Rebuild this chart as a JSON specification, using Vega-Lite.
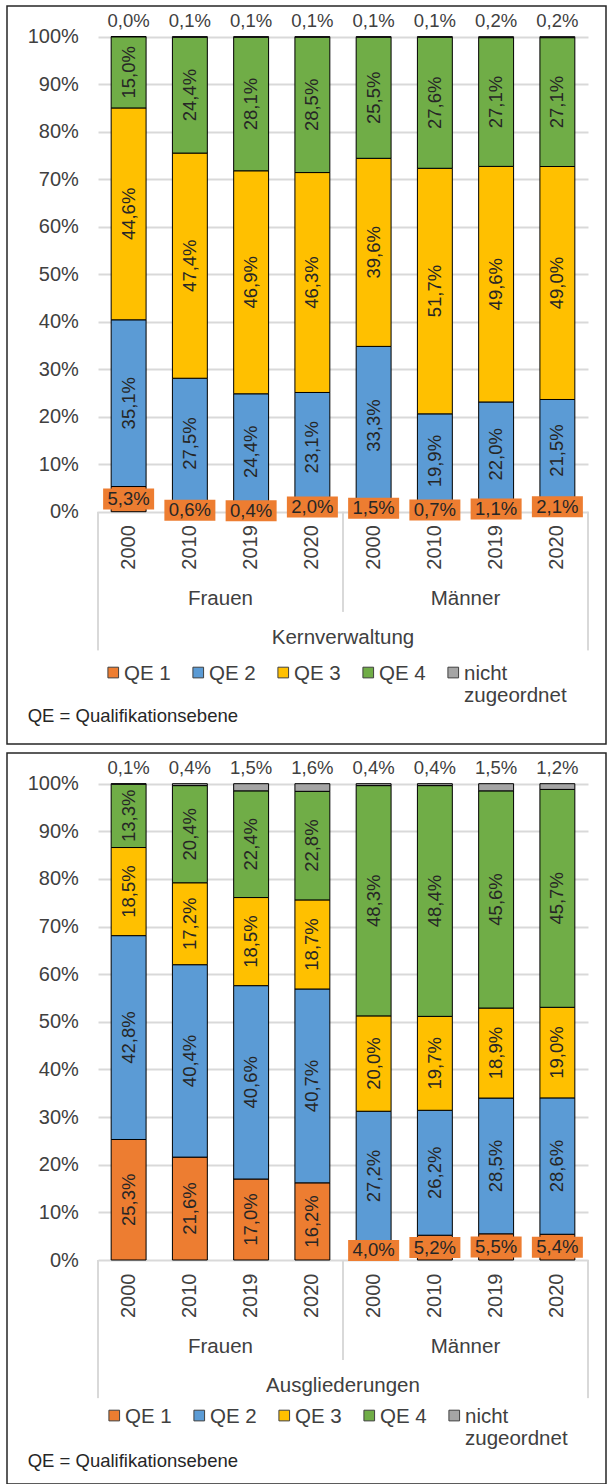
{
  "$schema": "https://vega.github.io/schema/vega-lite/v6.json",
  "background": "white",
  "padding": {"left": 6, "top": 5, "right": 0, "bottom": 0},
  "config": {
    "font": "Liberation Sans",
    "view": {"stroke": "#262626", "strokeWidth": 1.5},
    "legend": {"padding": 0}
  },
  "data": {
    "values": [
      {"panel": "Kernverwaltung", "gender": "Frauen", "year": "2000", "QE 1": 5.3, "QE 2": 35.1, "QE 3": 44.6, "QE 4": 15.0, "nicht zugeordnet": 0.0},
      {"panel": "Kernverwaltung", "gender": "Frauen", "year": "2010", "QE 1": 0.6, "QE 2": 27.5, "QE 3": 47.4, "QE 4": 24.4, "nicht zugeordnet": 0.1},
      {"panel": "Kernverwaltung", "gender": "Frauen", "year": "2019", "QE 1": 0.4, "QE 2": 24.4, "QE 3": 46.9, "QE 4": 28.1, "nicht zugeordnet": 0.1},
      {"panel": "Kernverwaltung", "gender": "Frauen", "year": "2020", "QE 1": 2.0, "QE 2": 23.1, "QE 3": 46.3, "QE 4": 28.5, "nicht zugeordnet": 0.1},
      {"panel": "Kernverwaltung", "gender": "Männer", "year": "2000", "QE 1": 1.5, "QE 2": 33.3, "QE 3": 39.6, "QE 4": 25.5, "nicht zugeordnet": 0.1},
      {"panel": "Kernverwaltung", "gender": "Männer", "year": "2010", "QE 1": 0.7, "QE 2": 19.9, "QE 3": 51.7, "QE 4": 27.6, "nicht zugeordnet": 0.1},
      {"panel": "Kernverwaltung", "gender": "Männer", "year": "2019", "QE 1": 1.1, "QE 2": 22.0, "QE 3": 49.6, "QE 4": 27.1, "nicht zugeordnet": 0.2},
      {"panel": "Kernverwaltung", "gender": "Männer", "year": "2020", "QE 1": 2.1, "QE 2": 21.5, "QE 3": 49.0, "QE 4": 27.1, "nicht zugeordnet": 0.2},
      {"panel": "Ausgliederungen", "gender": "Frauen", "year": "2000", "QE 1": 25.3, "QE 2": 42.8, "QE 3": 18.5, "QE 4": 13.3, "nicht zugeordnet": 0.1},
      {"panel": "Ausgliederungen", "gender": "Frauen", "year": "2010", "QE 1": 21.6, "QE 2": 40.4, "QE 3": 17.2, "QE 4": 20.4, "nicht zugeordnet": 0.4},
      {"panel": "Ausgliederungen", "gender": "Frauen", "year": "2019", "QE 1": 17.0, "QE 2": 40.6, "QE 3": 18.5, "QE 4": 22.4, "nicht zugeordnet": 1.5},
      {"panel": "Ausgliederungen", "gender": "Frauen", "year": "2020", "QE 1": 16.2, "QE 2": 40.7, "QE 3": 18.7, "QE 4": 22.8, "nicht zugeordnet": 1.6},
      {"panel": "Ausgliederungen", "gender": "Männer", "year": "2000", "QE 1": 4.0, "QE 2": 27.2, "QE 3": 20.0, "QE 4": 48.3, "nicht zugeordnet": 0.4},
      {"panel": "Ausgliederungen", "gender": "Männer", "year": "2010", "QE 1": 5.2, "QE 2": 26.2, "QE 3": 19.7, "QE 4": 48.4, "nicht zugeordnet": 0.4},
      {"panel": "Ausgliederungen", "gender": "Männer", "year": "2019", "QE 1": 5.5, "QE 2": 28.5, "QE 3": 18.9, "QE 4": 45.6, "nicht zugeordnet": 1.5},
      {"panel": "Ausgliederungen", "gender": "Männer", "year": "2020", "QE 1": 5.4, "QE 2": 28.6, "QE 3": 19.0, "QE 4": 45.7, "nicht zugeordnet": 1.2}
    ]
  },
  "resolve": {
    "scale": {"x": "independent", "y": "independent", "color": "independent"},
    "axis": {"x": "independent", "y": "independent"},
    "legend": {"color": "independent"}
  },
  "spacing": 7,
  "vconcat": [
    {
      "width": 599,
      "height": 738,
      "transform": [
        {"filter": "datum.panel == 'Kernverwaltung'"},
        {"fold": ["QE 1", "QE 2", "QE 3", "QE 4", "nicht zugeordnet"], "as": ["qe", "value"]},
        {"calculate": "datum.gender + ' ' + datum.year", "as": "key"},
        {"stack": "value", "groupby": ["key"], "sort": [{"field": "qe", "order": "ascending"}], "offset": "normalize", "as": ["y0", "y1"]},
        {"calculate": "(datum.y0 + datum.y1) / 2", "as": "mid"},
        {"calculate": "replace(format(datum.value, '.1f'), '.', ',') + '%'", "as": "label"}
      ],
      "layer": [
        {
          "mark": {"type": "bar", "stroke": "#000000", "strokeWidth": 1},
          "encoding": {
            "x": {"field": "key", "type": "nominal", "scale": {"range": [91, 581], "paddingInner": 0.43, "paddingOuter": 0.215},
              "axis": {"orient": "bottom", "offset": -232.3, "title": null, "domain": false, "ticks": false, "grid": false, "labelAngle": 270, "labelAlign": "right", "labelBaseline": "middle", "labelPadding": 13, "labelExpr": "split(datum.label, ' ')[1]", "labelFontSize": 20, "labelColor": "#404040", "labelOverlap": false, "labelBound": false}},
            "y": {"field": "y1", "type": "quantitative", "scale": {"domain": [0, 1], "range": [505.7, 30.7], "nice": false, "zero": false},
              "axis": {"orient": "left", "offset": -71.3, "title": null, "domain": false, "ticks": false, "labelPadding": 0, "values": [0, 0.1, 0.2, 0.3, 0.4, 0.5, 0.6, 0.7, 0.8, 0.9, 1], "format": ".0%", "labelFontSize": 20, "labelColor": "#404040", "grid": true, "gridColor": "#d9d9d9", "gridWidth": 2}},
            "y2": {"field": "y0"},
            "color": {"field": "qe", "type": "nominal",
              "scale": {"domain": ["QE 1", "QE 2", "QE 3", "QE 4", "nicht zugeordnet"], "range": ["#ED7D31", "#5B9BD5", "#FFC000", "#70AD47", "#A5A5A5"]},
              "legend": {"orient": "none", "legendX": 96, "legendY": 647, "direction": "horizontal", "title": null, "symbolType": "M-1,0.67H1V2.67H-1Z", "symbolSize": 114, "symbolStrokeColor": "#404040", "symbolStrokeWidth": 1, "labelFontSize": 20.5, "labelColor": "#404040", "labelBaseline": "top", "labelOffset": 0.5, "columnPadding": 17, "labelExpr": "datum.value == 'nicht zugeordnet' ? ['nicht', 'zugeordnet'] : [datum.label, ' ']"}}
          }
        },
        {
          "transform": [{"filter": "datum.qe != 'nicht zugeordnet' && !(datum.qe == 'QE 1' && datum.value < 10)"}],
          "mark": {"type": "text", "angle": 270, "align": "center", "baseline": "middle", "fontSize": 18.5, "color": "#262626"},
          "encoding": {
            "x": {"field": "key", "type": "nominal"},
            "y": {"field": "mid", "type": "quantitative", "scale": {"domain": [0, 1], "range": [505.7, 30.7], "nice": false, "zero": false}},
            "text": {"field": "label"}
          }
        },
        {
          "transform": [{"filter": "datum.qe == 'QE 1' && datum.value < 10"}],
          "mark": {"type": "point", "shape": "M-2.55,-1.05H2.55V1.05H-2.55Z", "size": 400, "filled": true, "color": "#ED7D31", "opacity": 1, "strokeWidth": 0},
          "encoding": {
            "x": {"field": "key", "type": "nominal"},
            "y": {"field": "mid", "type": "quantitative", "scale": {"domain": [0, 1], "range": [505.7, 30.7], "nice": false, "zero": false}}
          }
        },
        {
          "transform": [{"filter": "datum.qe == 'QE 1' && datum.value < 10"}],
          "mark": {"type": "text", "align": "center", "baseline": "middle", "fontSize": 18.5, "color": "#262626"},
          "encoding": {
            "x": {"field": "key", "type": "nominal"},
            "y": {"field": "mid", "type": "quantitative", "scale": {"domain": [0, 1], "range": [505.7, 30.7], "nice": false, "zero": false}},
            "text": {"field": "label"}
          }
        },
        {
          "transform": [{"filter": "datum.qe == 'nicht zugeordnet'"}],
          "mark": {"type": "text", "align": "center", "baseline": "alphabetic", "dy": -10, "fontSize": 18.5, "color": "#404040"},
          "encoding": {
            "x": {"field": "key", "type": "nominal"},
            "y": {"datum": 1, "type": "quantitative", "scale": {"domain": [0, 1], "range": [505.7, 30.7], "nice": false, "zero": false}},
            "text": {"field": "label"}
          }
        },
        {
          "transform": [{"filter": "datum.qe == 'QE 1' && datum.year == '2010'"}],
          "mark": {"type": "text", "align": "center", "baseline": "middle", "fontSize": 20.5, "color": "#404040"},
          "encoding": {
            "x": {"field": "key", "type": "nominal", "bandPosition": 1.377},
            "y": {"datum": -0.184, "type": "quantitative", "scale": {"domain": [0, 1], "range": [505.7, 30.7], "nice": false, "zero": false}},
            "text": {"field": "gender"}
          }
        },
        {
          "transform": [{"filter": "datum.qe == 'QE 1' && datum.key == 'Frauen 2020'"}],
          "mark": {"type": "text", "align": "center", "baseline": "middle", "fontSize": 20.5, "color": "#404040"},
          "encoding": {
            "x": {"field": "key", "type": "nominal", "bandPosition": 1.377},
            "y": {"datum": -0.265, "type": "quantitative", "scale": {"domain": [0, 1], "range": [505.7, 30.7], "nice": false, "zero": false}},
            "text": {"field": "panel"}
          }
        },
        {
          "transform": [{"filter": "datum.qe == 'QE 1' && datum.key == 'Frauen 2020'"}],
          "mark": {"type": "rule", "color": "#d9d9d9", "strokeWidth": 2},
          "encoding": {
            "x": {"field": "key", "type": "nominal", "bandPosition": 1.377},
            "y": {"datum": 0, "type": "quantitative", "scale": {"domain": [0, 1], "range": [505.7, 30.7], "nice": false, "zero": false}},
            "y2": {"datum": -0.211}
          }
        },
        {
          "transform": [{"filter": "datum.qe == 'QE 1' && datum.key == 'Frauen 2000'"}],
          "mark": {"type": "rule", "color": "#d9d9d9", "strokeWidth": 2},
          "encoding": {
            "x": {"field": "key", "type": "nominal", "bandPosition": -0.377},
            "y": {"datum": 0, "type": "quantitative", "scale": {"domain": [0, 1], "range": [505.7, 30.7], "nice": false, "zero": false}},
            "y2": {"datum": -0.292}
          }
        },
        {
          "transform": [{"filter": "datum.qe == 'QE 1' && datum.key == 'Männer 2020'"}],
          "mark": {"type": "rule", "color": "#d9d9d9", "strokeWidth": 2},
          "encoding": {
            "x": {"field": "key", "type": "nominal", "bandPosition": 1.377},
            "y": {"datum": 0, "type": "quantitative", "scale": {"domain": [0, 1], "range": [505.7, 30.7], "nice": false, "zero": false}},
            "y2": {"datum": -0.292}
          }
        },
        {
          "transform": [{"filter": "datum.qe == 'QE 1' && datum.key == 'Frauen 2000'"}],
          "mark": {"type": "text", "align": "left", "baseline": "middle", "fontSize": 18.5, "color": "#262626"},
          "encoding": {
            "x": {"field": "key", "type": "nominal", "bandPosition": -2.391},
            "y": {"datum": -0.43, "type": "quantitative", "scale": {"domain": [0, 1], "range": [505.7, 30.7], "nice": false, "zero": false}},
            "text": {"value": "QE = Qualifikationsebene"}
          }
        }
      ]
    },
    {
      "width": 599,
      "height": 731,
      "transform": [
        {"filter": "datum.panel == 'Ausgliederungen'"},
        {"fold": ["QE 1", "QE 2", "QE 3", "QE 4", "nicht zugeordnet"], "as": ["qe", "value"]},
        {"calculate": "datum.gender + ' ' + datum.year", "as": "key"},
        {"stack": "value", "groupby": ["key"], "sort": [{"field": "qe", "order": "ascending"}], "offset": "normalize", "as": ["y0", "y1"]},
        {"calculate": "(datum.y0 + datum.y1) / 2", "as": "mid"},
        {"calculate": "replace(format(datum.value, '.1f'), '.', ',') + '%'", "as": "label"}
      ],
      "layer": [
        {
          "mark": {"type": "bar", "stroke": "#000000", "strokeWidth": 1},
          "encoding": {
            "x": {"field": "key", "type": "nominal", "scale": {"range": [91, 581], "paddingInner": 0.43, "paddingOuter": 0.215},
              "axis": {"orient": "bottom", "offset": -224, "title": null, "domain": false, "ticks": false, "grid": false, "labelAngle": 270, "labelAlign": "right", "labelBaseline": "middle", "labelPadding": 13, "labelExpr": "split(datum.label, ' ')[1]", "labelFontSize": 20, "labelColor": "#404040", "labelOverlap": false, "labelBound": false}},
            "y": {"field": "y1", "type": "quantitative", "scale": {"domain": [0, 1], "range": [507, 30.7], "nice": false, "zero": false},
              "axis": {"orient": "left", "offset": -71.3, "title": null, "domain": false, "ticks": false, "labelPadding": 0, "values": [0, 0.1, 0.2, 0.3, 0.4, 0.5, 0.6, 0.7, 0.8, 0.9, 1], "format": ".0%", "labelFontSize": 20, "labelColor": "#404040", "grid": true, "gridColor": "#d9d9d9", "gridWidth": 2}},
            "y2": {"field": "y0"},
            "color": {"field": "qe", "type": "nominal",
              "scale": {"domain": ["QE 1", "QE 2", "QE 3", "QE 4", "nicht zugeordnet"], "range": ["#ED7D31", "#5B9BD5", "#FFC000", "#70AD47", "#A5A5A5"]},
              "legend": {"orient": "none", "legendX": 97, "legendY": 643, "direction": "horizontal", "title": null, "symbolType": "M-1,0.67H1V2.67H-1Z", "symbolSize": 114, "symbolStrokeColor": "#404040", "symbolStrokeWidth": 1, "labelFontSize": 20.5, "labelColor": "#404040", "labelBaseline": "top", "labelOffset": 0.5, "columnPadding": 17, "labelExpr": "datum.value == 'nicht zugeordnet' ? ['nicht', 'zugeordnet'] : [datum.label, ' ']"}}
          }
        },
        {
          "transform": [{"filter": "datum.qe != 'nicht zugeordnet' && !(datum.qe == 'QE 1' && datum.value < 10)"}],
          "mark": {"type": "text", "angle": 270, "align": "center", "baseline": "middle", "fontSize": 18.5, "color": "#262626"},
          "encoding": {
            "x": {"field": "key", "type": "nominal"},
            "y": {"field": "mid", "type": "quantitative", "scale": {"domain": [0, 1], "range": [507, 30.7], "nice": false, "zero": false}},
            "text": {"field": "label"}
          }
        },
        {
          "transform": [{"filter": "datum.qe == 'QE 1' && datum.value < 10"}],
          "mark": {"type": "point", "shape": "M-2.55,-1.05H2.55V1.05H-2.55Z", "size": 400, "filled": true, "color": "#ED7D31", "opacity": 1, "strokeWidth": 0},
          "encoding": {
            "x": {"field": "key", "type": "nominal"},
            "y": {"field": "mid", "type": "quantitative", "scale": {"domain": [0, 1], "range": [507, 30.7], "nice": false, "zero": false}}
          }
        },
        {
          "transform": [{"filter": "datum.qe == 'QE 1' && datum.value < 10"}],
          "mark": {"type": "text", "align": "center", "baseline": "middle", "fontSize": 18.5, "color": "#262626"},
          "encoding": {
            "x": {"field": "key", "type": "nominal"},
            "y": {"field": "mid", "type": "quantitative", "scale": {"domain": [0, 1], "range": [507, 30.7], "nice": false, "zero": false}},
            "text": {"field": "label"}
          }
        },
        {
          "transform": [{"filter": "datum.qe == 'nicht zugeordnet'"}],
          "mark": {"type": "text", "align": "center", "baseline": "alphabetic", "dy": -10, "fontSize": 18.5, "color": "#404040"},
          "encoding": {
            "x": {"field": "key", "type": "nominal"},
            "y": {"datum": 1, "type": "quantitative", "scale": {"domain": [0, 1], "range": [507, 30.7], "nice": false, "zero": false}},
            "text": {"field": "label"}
          }
        },
        {
          "transform": [{"filter": "datum.qe == 'QE 1' && datum.year == '2010'"}],
          "mark": {"type": "text", "align": "center", "baseline": "middle", "fontSize": 20.5, "color": "#404040"},
          "encoding": {
            "x": {"field": "key", "type": "nominal", "bandPosition": 1.377},
            "y": {"datum": -0.183, "type": "quantitative", "scale": {"domain": [0, 1], "range": [507, 30.7], "nice": false, "zero": false}},
            "text": {"field": "gender"}
          }
        },
        {
          "transform": [{"filter": "datum.qe == 'QE 1' && datum.key == 'Frauen 2020'"}],
          "mark": {"type": "text", "align": "center", "baseline": "middle", "fontSize": 20.5, "color": "#404040"},
          "encoding": {
            "x": {"field": "key", "type": "nominal", "bandPosition": 1.377},
            "y": {"datum": -0.264, "type": "quantitative", "scale": {"domain": [0, 1], "range": [507, 30.7], "nice": false, "zero": false}},
            "text": {"field": "panel"}
          }
        },
        {
          "transform": [{"filter": "datum.qe == 'QE 1' && datum.key == 'Frauen 2020'"}],
          "mark": {"type": "rule", "color": "#d9d9d9", "strokeWidth": 2},
          "encoding": {
            "x": {"field": "key", "type": "nominal", "bandPosition": 1.377},
            "y": {"datum": 0, "type": "quantitative", "scale": {"domain": [0, 1], "range": [507, 30.7], "nice": false, "zero": false}},
            "y2": {"datum": -0.21}
          }
        },
        {
          "transform": [{"filter": "datum.qe == 'QE 1' && datum.key == 'Frauen 2000'"}],
          "mark": {"type": "rule", "color": "#d9d9d9", "strokeWidth": 2},
          "encoding": {
            "x": {"field": "key", "type": "nominal", "bandPosition": -0.377},
            "y": {"datum": 0, "type": "quantitative", "scale": {"domain": [0, 1], "range": [507, 30.7], "nice": false, "zero": false}},
            "y2": {"datum": -0.29}
          }
        },
        {
          "transform": [{"filter": "datum.qe == 'QE 1' && datum.key == 'Männer 2020'"}],
          "mark": {"type": "rule", "color": "#d9d9d9", "strokeWidth": 2},
          "encoding": {
            "x": {"field": "key", "type": "nominal", "bandPosition": 1.377},
            "y": {"datum": 0, "type": "quantitative", "scale": {"domain": [0, 1], "range": [507, 30.7], "nice": false, "zero": false}},
            "y2": {"datum": -0.29}
          }
        },
        {
          "transform": [{"filter": "datum.qe == 'QE 1' && datum.key == 'Frauen 2000'"}],
          "mark": {"type": "text", "align": "left", "baseline": "middle", "fontSize": 18.5, "color": "#262626"},
          "encoding": {
            "x": {"field": "key", "type": "nominal", "bandPosition": -2.391},
            "y": {"datum": -0.421, "type": "quantitative", "scale": {"domain": [0, 1], "range": [507, 30.7], "nice": false, "zero": false}},
            "text": {"value": "QE = Qualifikationsebene"}
          }
        }
      ]
    }
  ]
}
